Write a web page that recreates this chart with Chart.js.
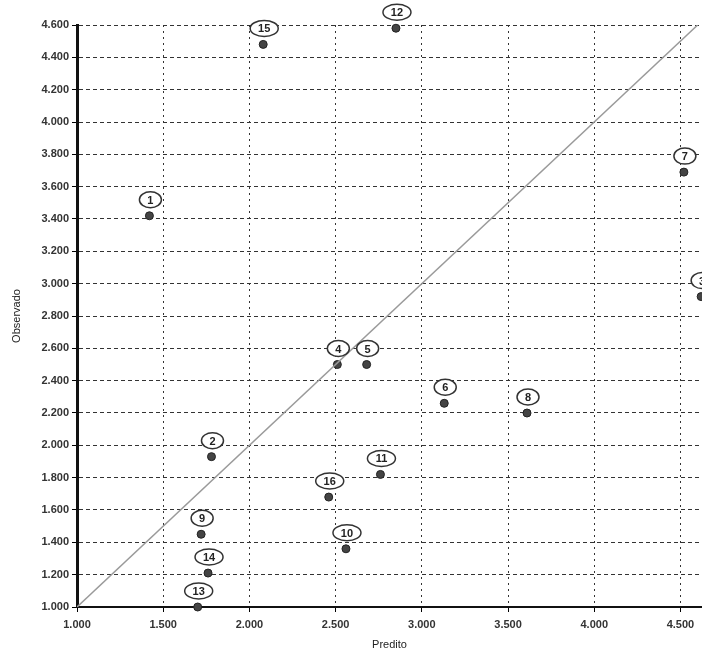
<!DOCTYPE html>
<html lang="en">
<head>
  <meta charset="utf-8"/>
  <title>Observado x Predito</title>
  <script src="https://cdn.jsdelivr.net/npm/chart.js"></script>
  <style>
    html, body { margin: 0; padding: 0; background: #fff; overflow: hidden; }
    #my_chart { display: block; }
  </style>
</head>
<body>
  <canvas id="my_chart" width="702" height="652"></canvas>

<script>
var pointLabels = ['1','2','3','4','5','6','7','8','9','10','11','12','13','14','15','16'];
var predito   = [1.42, 1.78, 4.62, 2.51, 2.68, 3.13, 4.52, 3.61, 1.72, 2.56, 2.76, 2.85, 1.70, 1.76, 2.08, 2.46];
var observado = [3.42, 1.93, 2.92, 2.50, 2.50, 2.26, 3.69, 2.20, 1.45, 1.36, 1.82, 4.58, 1.00, 1.21, 4.48, 1.68];

// 1:1 reference line
var lineX = [1.0, 4.6];
var lineY = [1.0, 4.6];

// tick positions on the x axis
var xTicks = [1.0, 1.5, 2.0, 2.5, 3.0, 3.5, 4.0, 4.5];

function toPoints (xs, ys) {
  return xs.map((x, i) => ({ x: x, y: ys[i] }));
}

// draws the little numbered balloons above each point
const bubbleLabels = {
  id: 'bubbleLabels',
  afterDatasetsDraw (chart) {
    const ctx = chart.ctx;
    const meta = chart.getDatasetMeta(1);
    ctx.save();
    ctx.font = 'bold 11px "Liberation Sans", Arial, sans-serif';
    ctx.textAlign = 'center';
    ctx.textBaseline = 'middle';
    meta.data.forEach((el, i) => {
      const txt = pointLabels[i];
      const cx = el.x + 1;
      const cy = el.y - 16;
      const rx = txt.length > 1 ? 14 : 11;
      ctx.beginPath();
      ctx.ellipse(cx, cy, rx, 8, 0, 0, Math.PI * 2);
      ctx.fillStyle = '#fff';
      ctx.fill();
      ctx.lineWidth = 1.5;
      ctx.strokeStyle = '#333';
      ctx.stroke();
      ctx.fillStyle = '#222';
      ctx.fillText(txt, cx, cy + 1);
    });
    ctx.restore();
  }
};

var fmt = v => Number(v).toFixed(3);
var tickFont = { family: '"Liberation Sans", Arial, sans-serif', size: 11, weight: 'bold' };

window.onload = function () {
  const config = {
    type: 'scatter',
    data: {
      datasets: [
        {
          type: 'line',
          data: toPoints(lineX, lineY),
          borderColor: '#9a9a9a',
          borderWidth: 1.5,
          pointRadius: 0,
          fill: false
        },
        {
          data: toPoints(predito, observado),
          backgroundColor: '#444',
          borderColor: '#222',
          borderWidth: 1,
          pointRadius: 4,
          clip: false
        }
      ]
    },
    options: {
      responsive: false,
      animation: false,
      layout: { autoPadding: false, padding: { top: 25, right: 0, left: 10, bottom: 0 } },
      plugins: {
        legend: { display: false },
        tooltip: { enabled: false }
      },
      scales: {
        x: {
          type: 'linear',
          min: 1.0,
          max: 4.625,
          afterFit: s => { s.height = 45; s.paddingRight = 0; },
          afterBuildTicks: s => { s.ticks = xTicks.map(v => ({ value: v })); },
          ticks: {
            callback: fmt,
            color: '#333',
            padding: 6,
            maxRotation: 0,
            autoSkip: false,
            font: tickFont
          },
          grid: {
            color: '#333',
            lineWidth: 1,
            tickLength: 5,
            tickColor: '#000',
            tickBorderDash: []
          },
          border: { display: true, color: '#111', width: 2, dash: [2, 4] },
          title: {
            display: true,
            text: 'Predito',
            color: '#222',
            padding: { top: 0, bottom: 0 },
            font: { family: '"Liberation Sans", Arial, sans-serif', size: 11 }
          }
        },
        y: {
          type: 'linear',
          min: 1.0,
          max: 4.6,
          afterFit: s => { s.width = 67; },
          ticks: {
            stepSize: 0.2,
            callback: fmt,
            color: '#333',
            padding: 3,
            font: tickFont
          },
          grid: {
            color: '#333',
            lineWidth: 1,
            tickLength: 5,
            tickColor: '#000',
            tickBorderDash: []
          },
          border: { display: true, color: '#111', width: 3, dash: [4, 3] },
          title: {
            display: true,
            text: 'Observado',
            color: '#222',
            padding: { top: 0, bottom: 2 },
            font: { family: '"Liberation Sans", Arial, sans-serif', size: 11 }
          }
        }
      }
    },
    plugins: [bubbleLabels]
  };

  const ctx = document.getElementById('my_chart').getContext('2d');
  new Chart(ctx, config);
};
</script>
</body>
</html>
